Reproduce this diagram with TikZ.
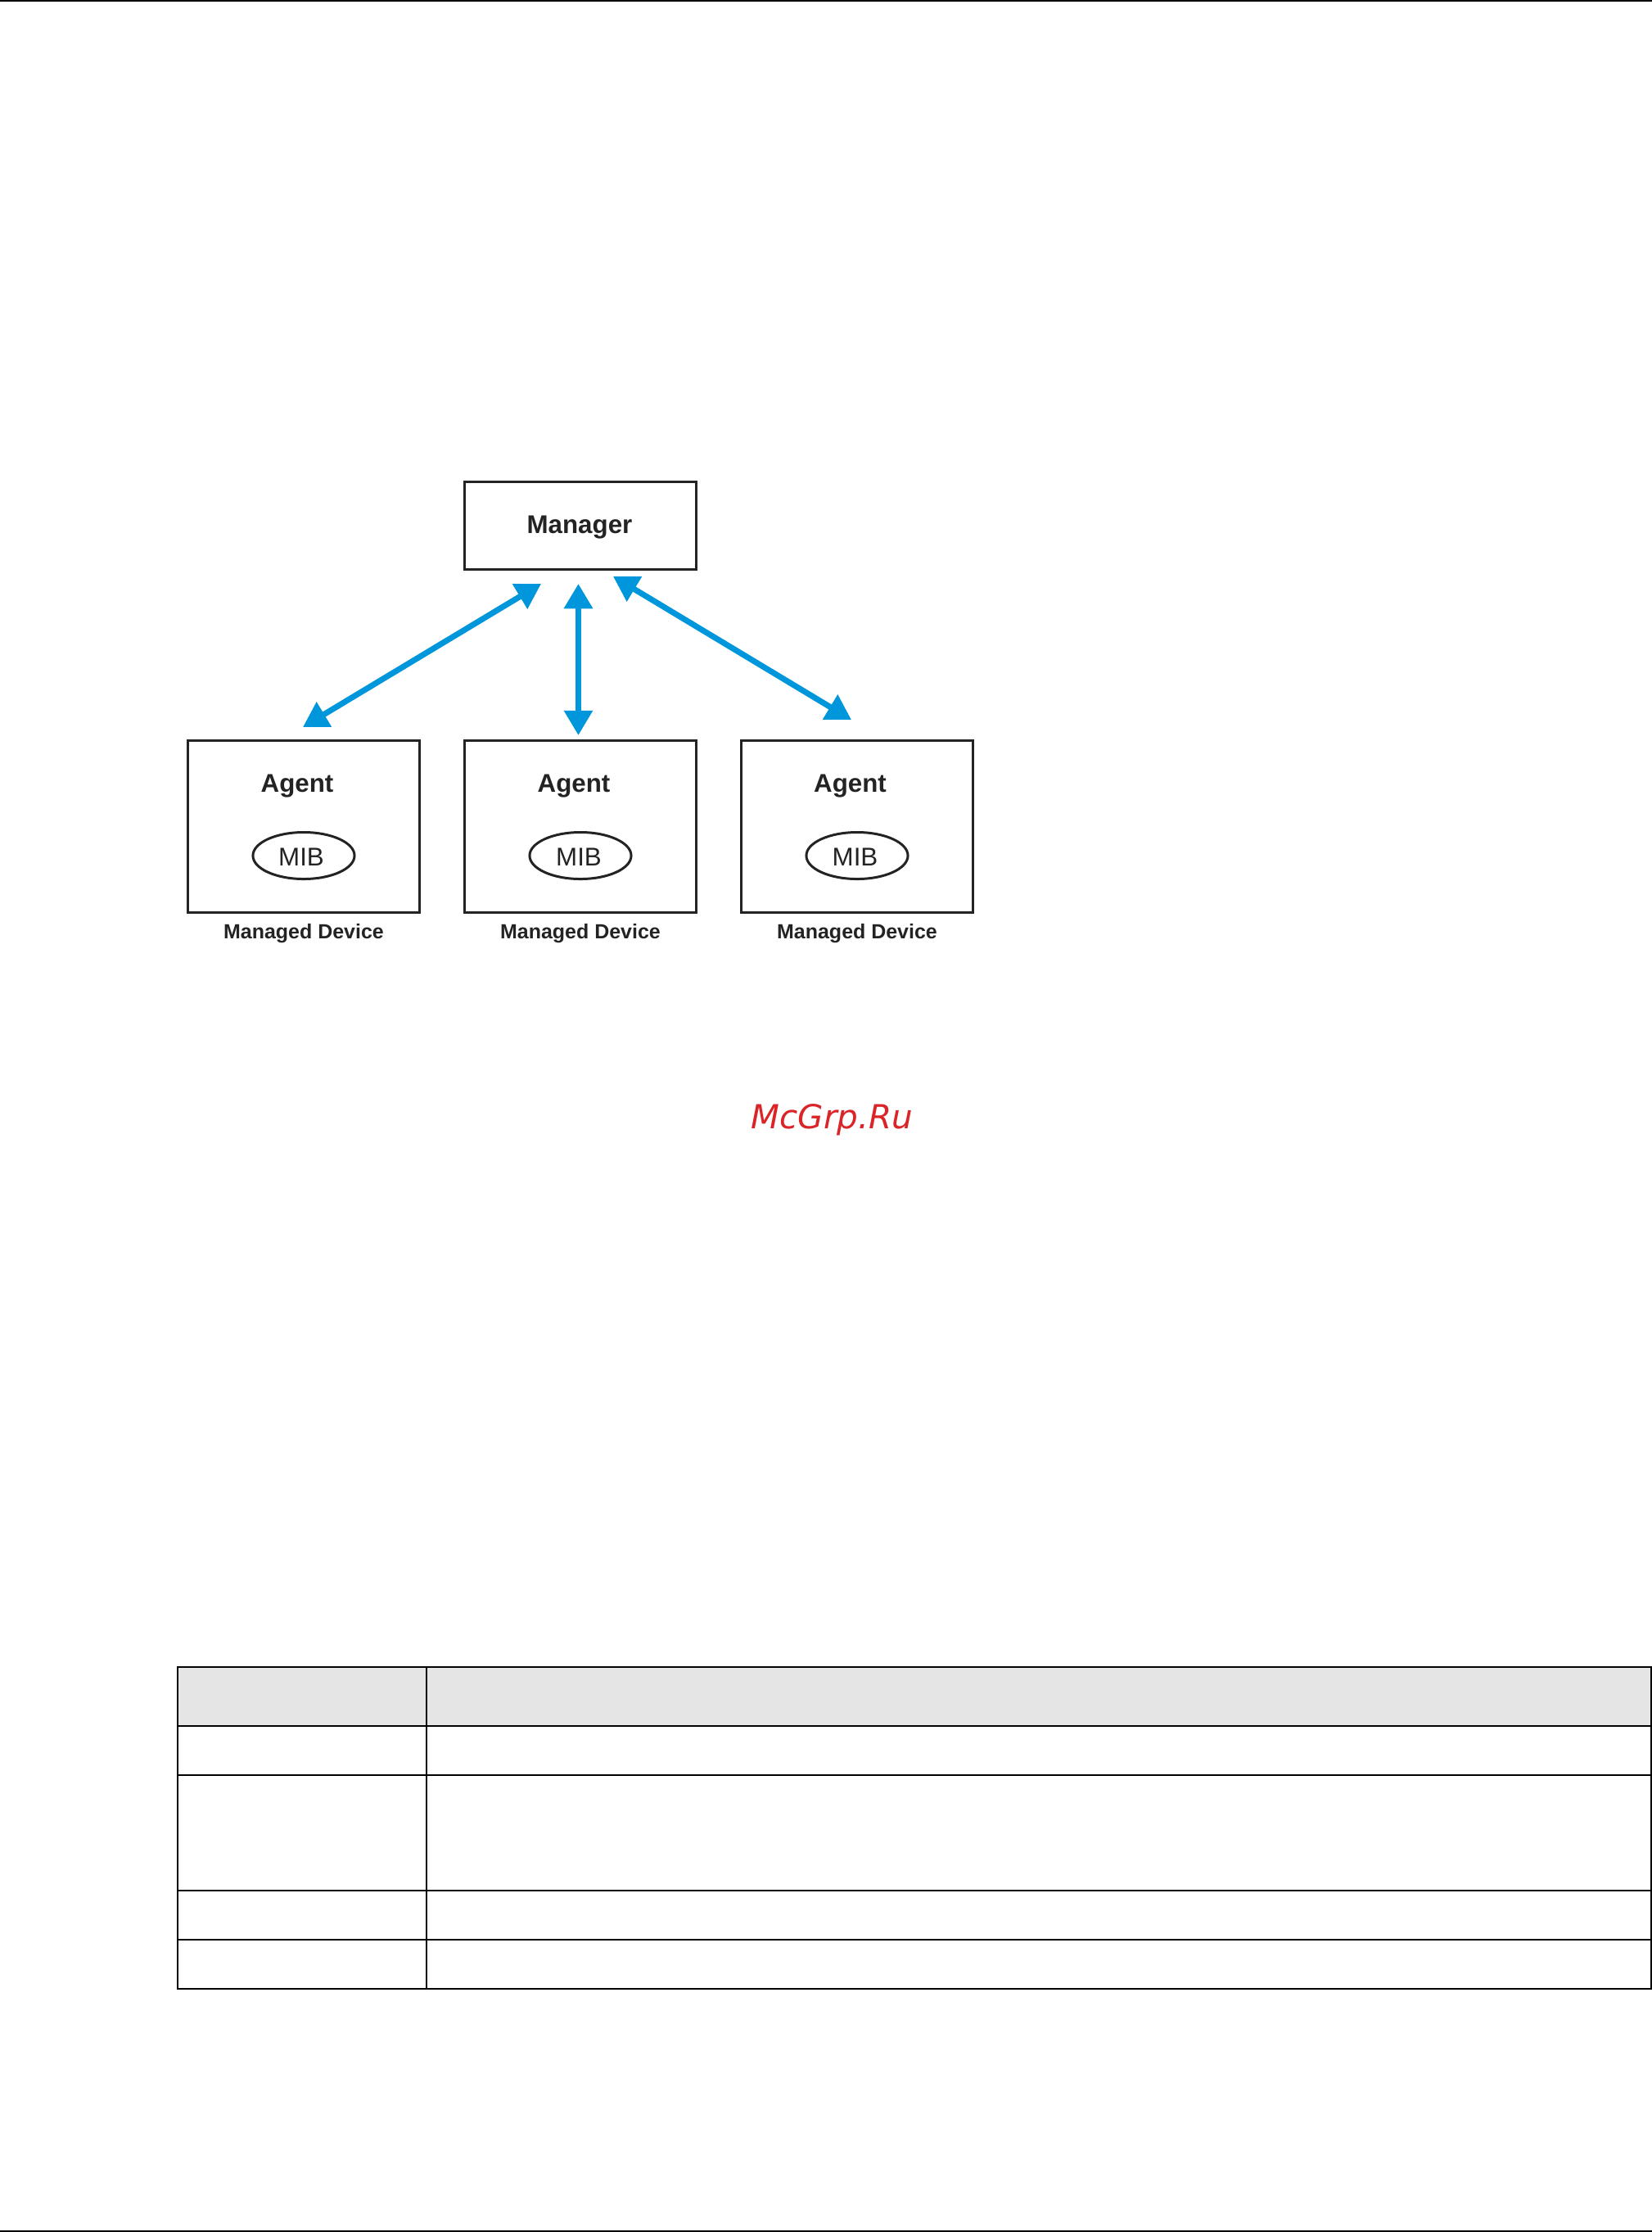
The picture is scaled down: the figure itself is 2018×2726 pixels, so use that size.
\documentclass[tikz,border=0pt]{standalone}
\usepackage{fontspec}
\setmainfont{Liberation Sans}
\newfontfamily\wmfont{DejaVu Sans}
\usetikzlibrary{arrows.meta, shapes.geometric}
\definecolor{myblue1}{RGB}{0, 150, 220}
\definecolor{mygray1}{RGB}{229, 229, 229}
\definecolor{myred1}{RGB}{218, 36, 40}
\definecolor{myblack1}{RGB}{35, 35, 35}

\begin{document}
\begin{tikzpicture}[
    x = 0.01cm, y = -0.01cm,
    d0/.style = {line width = 0.85pt, draw = myblack1, inner sep = 0},
    mgr/.style = {d0, minimum width = 2.82cm, minimum height = 1.07cm},
    dev/.style = {d0, minimum width = 2.82cm, minimum height = 2.10cm},
    mib/.style = {d0, ellipse, minimum width = 1.24cm, minimum height = 0.57cm},
    lbl/.style = {inner sep = 0, text = myblack1, font = \fontsize{8.9}{10}\selectfont},
    blbl/.style = {lbl, font = \fontsize{8.9}{10}\selectfont\bfseries},
    devlbl/.style = {lbl, font = \fontsize{7.1}{8}\selectfont\bfseries},
    link/.style = {line width = 2pt, myblue1, {Triangle[length = 8.6pt, width = 9.6pt]}-{Triangle[length = 8.6pt, width = 9.6pt]}},
    tline/.style = {line width = 0.57pt, black}
]
\useasboundingbox (0,0) rectangle (2018,2726);

% page rules
\draw[tline] (0,1) -- (2018,1);
\draw[tline] (0,2725) -- (2018,2725);

% manager
\node[mgr] (manager) at (709,642) {};
\node[blbl] (managertxt) at (708,644) {Manager};

% agents
\foreach \name/\bx/\ax/\mx in {a/371/363/368, b/709/701/707, c/1047/1038.5/1044.5} {
    \node[dev] (box\name) at (\bx,1009.5) {};
    \node[blbl] (agent\name) at (\ax,960) {Agent};
    \node[mib] (mib\name) at (\bx,1045) {};
    \node[lbl] (mibtxt\name) at (\mx,1047) {MIB};
    \node[devlbl] (dev\name) at (\bx,1140) {Managed Device};
}

% free ends of the arrows
\coordinate (ma) at (661,713);
\coordinate (mb) at (706.5,713);
\coordinate (mc) at (749,704);
\coordinate (ea) at (370,888);
\coordinate (eb) at (706.5,898);
\coordinate (ec) at (1040,879);

\draw[link] (ma) -- (ea);
\draw[link] (mb) -- (eb);
\draw[link] (mc) -- (ec);

% watermark
\node[anchor = base west, inner sep = 0, text = myred1, font = \wmfont\itshape\fontsize{11.5}{12}\selectfont] (mark) at (917,1378) {McGrp.Ru};

% table
\fill[mygray1] (217,2036) rectangle (2016,2108);
\foreach \y in {2036, 2108, 2168, 2309, 2369, 2429} {
    \draw[tline] (216,\y) -- (2018,\y);
}
\foreach \x in {217, 521, 2017} {
    \draw[tline] (\x,2036) -- (\x,2429);
}

\end{tikzpicture}
\end{document}
